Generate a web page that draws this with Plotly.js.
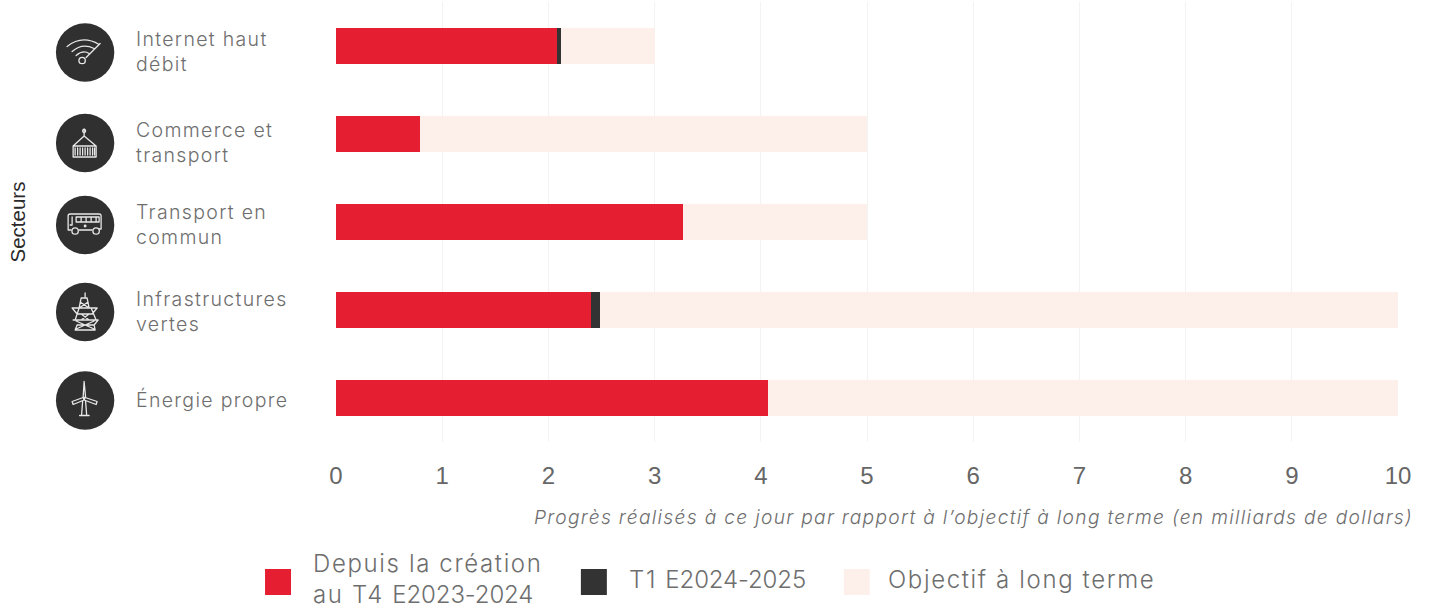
<!DOCTYPE html>
<html lang="fr">
<head>
<meta charset="utf-8">
<title>Progrès par secteur</title>
<script src="https://cdn.plot.ly/plotly-3.0.1.min.js"></script>
<style>
html,body{margin:0;padding:0;background:#fff}
#chart{width:1434px;height:608px}
/* Libellés plus aérés */
.annotation-text{letter-spacing:.068em}
</style>
</head>
<body>
<div id="chart"></div>
<script>
// Secteurs et valeurs en milliards de dollars
const sectors = ["Internet haut<br>débit", "Commerce et<br>transport", "Transport en<br>commun", "Infrastructures<br>vertes", "Énergie propre"];
const sinceInception = [2.08, 0.79, 3.27, 2.40, 4.07];
const firstQuarter = [0.04, 0, 0, 0.09, 0];
const remainingTarget = [0.88, 4.21, 1.73, 7.51, 5.93];
const xTicks = [0, 1, 2, 3, 4, 5, 6, 7, 8, 9, 10];
const seriesNames = ["Depuis la création<br>au T4 E2023-2024", "T1 E2024-2025", "Objectif à long terme"];
const seriesColors = ["#e61e32", "#333333", "#fdf0ea"];

// Pictogrammes blancs sur pastille sombre
const iconStroke = 'fill="none" stroke="#e8e8e8" stroke-width="1.3" stroke-linecap="round" stroke-linejoin="round"';
const iconBodies = [
  `<path d="M12 24Q27 12 44 22M17 29Q27 20 39 26M21 33Q28 27 34 31M31 35L45 21"/><circle cx="27" cy="38" r="3.2"/>`,
  `<path d="M29 16V23M29 23L18 33M29 23L41 33M18 33H41V44H18Z"/><path d="M20 35V42M22.500 35V42M25 35V42M27.500 35V42M30 35V42M32.500 35V42M35 35V42M37.500 35V42M39.500 35V42"/><circle cx="29" cy="18" r="1.5"/>`,
  `<path d="M16 35H13V21Q13 19 15 19H44Q46 19 46 21V34H44M37 35H24"/><path d="M17 22V30H15M21 22H44V27H21ZM26 22V27M31 22V27M36 22V27M41 22V27"/><circle cx="20" cy="36" r="3.2"/><circle cx="41" cy="36" r="3.2"/><circle cx="30" cy="31" r=".8"/>`,
  `<path d="M30 11V16M26 16H32L34 26H24ZM17 26H42L37 32H22ZM24 26L20 38H41L36 26M18 38H43L39 43H22M22 43L20 48H40L39 43M21 47L39 39M39 47L21 39M25 20L34 26M33 20L24 26M26 32L34 38M34 32L26 38"/>`,
  `<path d="M29 11L28 27H30.500ZM28 27L17 31L18 34L29 29.500ZM30 27L42 31L41 34L29 29.500Z"/><path d="M27.500 31L26.500 44M30.500 31L31.500 44M24.500 45H34"/>`
];
const iconUri = body => "data:image/svg+xml;utf8," + encodeURIComponent(
  `<svg xmlns="http://www.w3.org/2000/svg" width="60" height="60" viewBox="0 0 60 60"><circle cx="30" cy="30" r="29.2" fill="#303030"/><g ${iconStroke}>${body}</g></svg>`
);

// Cadre du tracé et conversion pixels -> coordonnées papier
const W = 1434, H = 608;
const plot = {l: 336, r: 1398.5, t: 2, b: 442};
const paperX = px => (px - plot.l) / (plot.r - plot.l);
const paperY = py => (plot.b - py) / (plot.b - plot.t);

const rowCenters = [52.5, 143, 225, 312, 400.5];
const labelFont = {family: "Inter, 'Open Sans', sans-serif", size: 19.5, color: "#6e6e6e", weight: 300};

const annotations = sectors.map((s, i) => ({
  text: s, xref: "paper", yref: "paper", x: paperX(134), y: paperY(rowCenters[i] - 1),
  xanchor: "left", yanchor: "middle", align: "left", showarrow: false, font: labelFont
}));
annotations.push({
  text: "<i>Progrès réalisés à ce jour par rapport à l’objectif à long terme (en milliards de dollars)</i>",
  xref: "paper", yref: "paper", x: paperX(1416), y: paperY(517), xanchor: "right", yanchor: "middle",
  showarrow: false, font: {family: "Inter, sans-serif", size: 19.2, color: "#6e6e6e", weight: 300}
});

// Légende dessinée à partir des noms et couleurs des séries ; les millésimes sont resserrés
const tightYears = n => n.replace(/E\d{4}-\d{4}/, m => `<span style="letter-spacing:-.005em">${m}</span>`);
const legendSwatchX = [265, 581, 844];
const legendTextX = [311, 627, 886];
const shapes = seriesNames.map((n, i) => ({
  type: "rect", xref: "paper", yref: "paper",
  x0: paperX(legendSwatchX[i]), x1: paperX(legendSwatchX[i] + 26),
  y0: paperY(595), y1: paperY(569), fillcolor: seriesColors[i], line: {width: 0}
}));
seriesNames.forEach((n, i) => annotations.push({
  text: tightYears(n), xref: "paper", yref: "paper", x: paperX(legendTextX[i]), y: paperY(579),
  xanchor: "left", yanchor: "middle", align: "left", showarrow: false,
  font: {family: "Inter, sans-serif", size: 24, color: "#6e6e6e", weight: 300}
}));

const images = iconBodies.map((b, i) => ({
  source: iconUri(b), xref: "paper", yref: "paper",
  x: paperX(85), y: paperY(rowCenters[i]), sizex: 60 / (plot.r - plot.l), sizey: 60 / (plot.b - plot.t),
  xanchor: "center", yanchor: "middle", sizing: "contain", layer: "above"
}));

const values = [sinceInception, firstQuarter, remainingTarget];
const traces = values.map((v, i) => ({
  type: "bar", orientation: "h", name: seriesNames[i].replace("<br>", " "),
  y: sectors, x: v, marker: {color: seriesColors[i], line: {width: 0}}, hoverinfo: "x+name"
}));

const layout = {
  width: W, height: H, autosize: false, barmode: "stack", bargap: 0.6, showlegend: false,
  paper_bgcolor: "#fff", plot_bgcolor: "#fff",
  margin: {l: plot.l, r: W - plot.r, t: plot.t, b: H - plot.b, pad: 0},
  xaxis: {
    range: [0, 10], tickvals: xTicks, showgrid: true, gridcolor: "#f3f3f3", gridwidth: 1,
    zeroline: false, showline: false, ticks: "", ticklabelstandoff: 17,
    tickfont: {family: "'Liberation Sans', Arial, sans-serif", size: 24, color: "#666"}
  },
  yaxis: {
    type: "category", autorange: false, range: [4.5, -0.5], showticklabels: false, ticks: "",
    showgrid: false, zeroline: false, showline: false,
    title: {text: "Secteurs", standoff: 303, font: {family: "'Liberation Sans', Arial, sans-serif", size: 20.5, color: "#2a2a2a"}}
  },
  annotations, shapes, images
};

Plotly.newPlot("chart", traces, layout, {displayModeBar: false, responsive: false});
</script>
</body>
</html>
